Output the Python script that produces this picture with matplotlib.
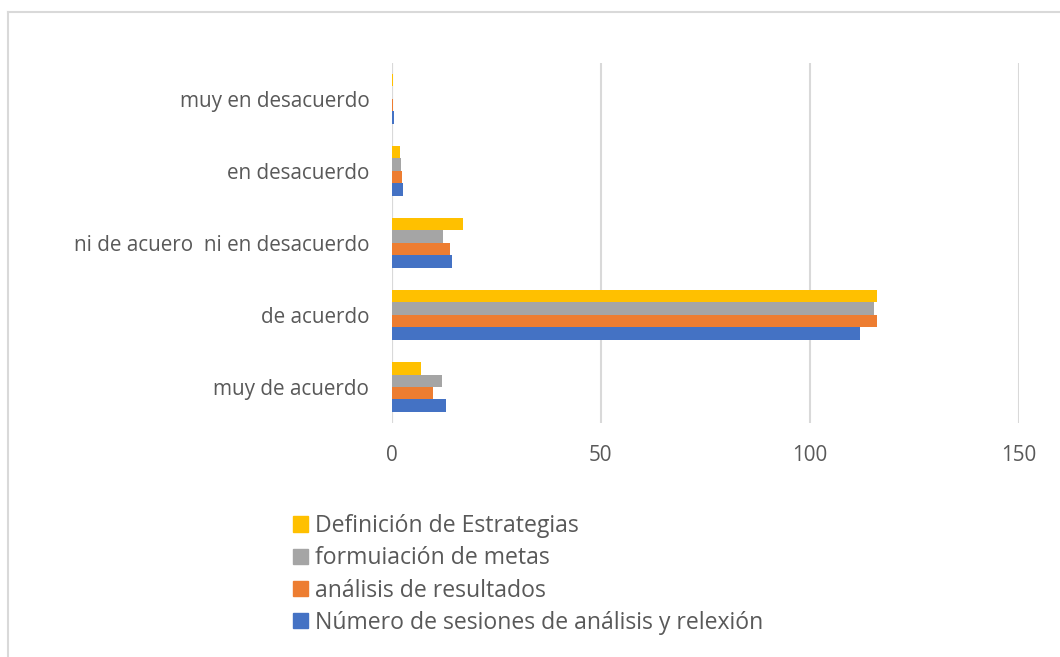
import matplotlib.pyplot as plt
import numpy as np
from matplotlib.lines import Line2D
from matplotlib.patches import Patch

plt.rcParams['font.family'] = ['Open Sans', 'DejaVu Sans']

categorias = ['muy de acuerdo', 'de acuerdo', 'ni de acuero  ni en desacuerdo',
              'en desacuerdo', 'muy en desacuerdo']
series = ['Número de sesiones de análisis y relexión', 'análisis de resultados',
          'formuiación de metas', 'Definición de Estrategias']
sesiones = [13, 112, 14.5, 2.7, 0.6]
analisis = [10, 116, 14, 2.5, 0.3]
metas = [12, 115.4, 12.4, 2.2, 0]
estrategias = [7, 116, 17, 2, 0.3]
valores = [sesiones, analisis, metas, estrategias]
colores = ['#4472c4', '#ed7d31', '#a5a5a5', '#ffc000']
xticks = [0, 50, 100, 150]

texto = '#595959'
gris = '#d9d9d9'

fig = plt.figure(figsize=(10.6, 6.57), dpi=100)
ax = fig.add_axes([391.5/1060, 1-423/657, (1018.7-391.5)/1060, (423-62.7)/657])

y = np.arange(len(categorias))
h = 0.173
for j, (vals, c) in enumerate(zip(valores, colores)):
    ax.barh(y + (j - 1.5) * h, vals, height=h, color=c, zorder=3)

ax.set_xlim(0, 150)
ax.set_ylim(-0.5, 4.5)
ax.set_xticks(xticks)
ax.set_yticks(y)
ax.set_yticklabels(categorias)
ax.tick_params(length=0, labelsize=14.9, colors=texto)
ax.tick_params(axis='x', pad=16)
ax.tick_params(axis='y', pad=16)
ax.grid(axis='x', color=gris, lw=1.5, zorder=0)
for s in ax.spines.values():
    s.set_visible(False)
ax.axvline(0, color=gris, lw=1.5, zorder=2)

handles = [Patch(color=c, label=s) for s, c in zip(series, colores)][::-1]
fig.legend(handles=handles, loc='upper left', bbox_to_anchor=(293/1060, 1-514/657),
           frameon=False, fontsize=16.6, labelcolor=texto, handlelength=0.65,
           handleheight=0.65, handletextpad=0.3, labelspacing=0.36, borderpad=0,
           borderaxespad=0)

# marco del gráfico
fig.add_artist(Line2D([8/1060, 1.01], [1-12/657, 1-12/657], color=gris, lw=1.5,
                      transform=fig.transFigure))
fig.add_artist(Line2D([8/1060, 8/1060], [1-12/657, -0.01], color=gris, lw=1.5,
                      transform=fig.transFigure))

fig.savefig('out.png', dpi=100, facecolor='white')
